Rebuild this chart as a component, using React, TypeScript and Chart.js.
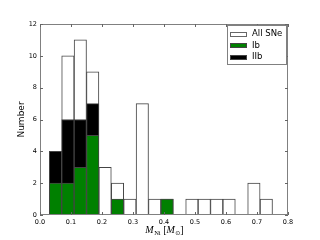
import React, { useEffect, useRef } from "react";
import { Chart, registerables } from "chart.js";

Chart.register(...registerables);

// Histogram bins (centers), bin width 0.04
const binCenters = [0.05, 0.09, 0.13, 0.17, 0.21, 0.25, 0.29, 0.33, 0.37, 0.41, 0.45, 0.49, 0.53, 0.57, 0.61, 0.65, 0.69, 0.73];
const allSNe = [4, 10, 11, 9, 3, 2, 1, 7, 1, 1, 0, 1, 1, 1, 1, 0, 2, 1];
const ibCounts = [2, 2, 3, 5, 0, 1, 0, 0, 0, 1, 0, 0, 0, 0, 0, 0, 0, 0];
const iibCounts = [2, 4, 3, 2, 0, 0, 0, 0, 0, 0, 0, 0, 0, 0, 0, 0, 0, 0];
const xTicks = [0.0, 0.1, 0.2, 0.3, 0.4, 0.5, 0.6, 0.7, 0.8];
const yTicks = [0, 2, 4, 6, 8, 10, 12];
const legendLabels = ["All SNe", "Ib", "IIb"];
const legendColors = ["#ffffff", "#008000", "#000000"];
const yTitle = "Number";

const toPoints = (vals: number[]) =>
  binCenters.map((x, i) => ({ x, y: vals[i] === 0 ? null : vals[i] }));

const EDGE = "#444444";
const FRAME = "#808080";

const decorPlugin = {
  id: "decor",
  afterDatasetsDraw(chart: any) {
    const { ctx, chartArea } = chart;
    const { left, right, top, bottom } = chartArea;
    const xs = chart.scales.x;
    const ys = chart.scales.y;
    ctx.save();
    ctx.strokeStyle = FRAME;
    ctx.lineWidth = 1;
    ctx.strokeRect(left + 0.5, top + 0.5, right - left - 1, bottom - top - 1);
    ctx.strokeStyle = "#666";
    ctx.beginPath();
    xTicks.forEach((v) => {
      const px = Math.round(xs.getPixelForValue(v)) + 0.5;
      ctx.moveTo(px, bottom);
      ctx.lineTo(px, bottom - 3);
      ctx.moveTo(px, top);
      ctx.lineTo(px, top + 3);
    });
    yTicks.forEach((v) => {
      const py = Math.round(ys.getPixelForValue(v)) + 0.5;
      ctx.moveTo(left, py);
      ctx.lineTo(left + 3, py);
      ctx.moveTo(right, py);
      ctx.lineTo(right - 3, py);
    });
    ctx.stroke();
    ctx.restore();
  },
  afterDraw(chart: any) {
    const { ctx, chartArea } = chart;
    const { left, right, top, bottom } = chartArea;
    ctx.save();
    // Legend
    const bx = right - 61;
    const by = top + 1;
    const bw = 59;
    const bh = 39;
    ctx.fillStyle = "#fff";
    ctx.fillRect(bx, by, bw, bh);
    ctx.strokeStyle = FRAME;
    ctx.lineWidth = 1;
    ctx.strokeRect(bx + 0.5, by + 0.5, bw, bh);
    ctx.font = "8.5px 'DejaVu Sans'";
    ctx.textBaseline = "middle";
    ctx.textAlign = "left";
    legendLabels.forEach((lab, i) => {
      const cy = by + 9 + i * 11.5;
      ctx.fillStyle = legendColors[i];
      ctx.fillRect(bx + 3, Math.round(cy - 2.5), 17, 5);
      ctx.strokeStyle = i === 0 ? "#666" : EDGE;
      ctx.strokeRect(bx + 3.5, Math.round(cy - 2.5) + 0.5, 16, 4);
      ctx.fillStyle = "#000";
      ctx.fillText(lab, bx + 25, cy);
    });
    // Y title
    ctx.save();
    ctx.translate(22, (top + bottom) / 2);
    ctx.rotate(-Math.PI / 2);
    ctx.font = "9px 'DejaVu Sans'";
    ctx.textAlign = "center";
    ctx.textBaseline = "middle";
    ctx.fillStyle = "#000";
    ctx.fillText(yTitle, 0, 0);
    ctx.restore();
    // X title: M_Ni [M_sun]
    const segs = [
      { t: "M", f: "italic 10px 'Liberation Serif'", dy: 0 },
      { t: "Ni", f: "6.5px 'Liberation Serif'", dy: 2 },
      { t: " [", f: "10px 'Liberation Serif'", dy: 0 },
      { t: "M", f: "italic 10px 'Liberation Serif'", dy: 0 },
      { t: "\u2299", f: "6px 'DejaVu Sans'", dy: 2 },
      { t: "]", f: "10px 'Liberation Serif'", dy: 0 },
    ];
    let total = 0;
    const widths = segs.map((s) => {
      ctx.font = s.f;
      const w = ctx.measureText(s.t).width;
      total += w;
      return w;
    });
    let x = (left + right) / 2 - total / 2;
    ctx.textAlign = "left";
    ctx.textBaseline = "alphabetic";
    ctx.fillStyle = "#000";
    segs.forEach((s, i) => {
      ctx.font = s.f;
      ctx.fillText(s.t, x, 233 + s.dy);
      x += widths[i] + (i === 0 || i === 3 ? 0.5 : 0);
    });
    ctx.restore();
  },
};

export default function App() {
  const ref = useRef<HTMLCanvasElement | null>(null);
  useEffect(() => {
    if (!ref.current) return;
    const barCommon = {
      borderColor: EDGE,
      borderWidth: 1,
      barPercentage: 1,
      categoryPercentage: 1,
      grouped: false,
    };
    const chart = new Chart(ref.current, {
      type: "bar",
      data: {
        datasets: [
          { label: legendLabels[1], data: toPoints(ibCounts), backgroundColor: legendColors[1], stack: "types", ...barCommon },
          { label: legendLabels[2], data: toPoints(iibCounts), backgroundColor: legendColors[2], stack: "types", ...barCommon },
          { label: legendLabels[0], data: toPoints(allSNe), backgroundColor: legendColors[0], stack: "all", ...barCommon },
        ],
      } as any,
      options: {
        animation: false,
        responsive: false,
        devicePixelRatio: 1,
        layout: { padding: { left: 0, right: 32, top: 24, bottom: 0 } },
        plugins: { legend: { display: false }, tooltip: { enabled: false } },
        scales: {
          x: {
            type: "linear",
            min: 0,
            max: 0.8,
            offset: false,
            grid: { display: false, drawTicks: false },
            border: { display: false },
            afterBuildTicks: (s: any) => {
              s.ticks = xTicks.map((v) => ({ value: v }));
            },
            afterFit: (s: any) => {
              s.height = 25;
            },
            ticks: {
              padding: 3,
              maxRotation: 0,
              autoSkip: false,
              color: "#000",
              font: { family: "'DejaVu Sans'", size: 6.5 },
              callback: (v: any) => Number(v).toFixed(1),
            },
          },
          y: {
            type: "linear",
            min: 0,
            max: 12,
            stacked: true,
            grid: { display: false, drawTicks: false },
            border: { display: false },
            afterBuildTicks: (s: any) => {
              s.ticks = yTicks.map((v) => ({ value: v }));
            },
            afterFit: (s: any) => {
              s.width = 40;
            },
            ticks: {
              padding: 3,
              color: "#000",
              font: { family: "'DejaVu Sans'", size: 6.5 },
            },
          },
        },
      },
      plugins: [decorPlugin],
    });
    return () => chart.destroy();
  }, []);
  return (
    <div style={{ position: "absolute", left: 0, top: 0, width: 320, height: 240, background: "#fff" }}>
      <canvas ref={ref} width={320} height={240} style={{ display: "block" }} />
    </div>
  );
}
